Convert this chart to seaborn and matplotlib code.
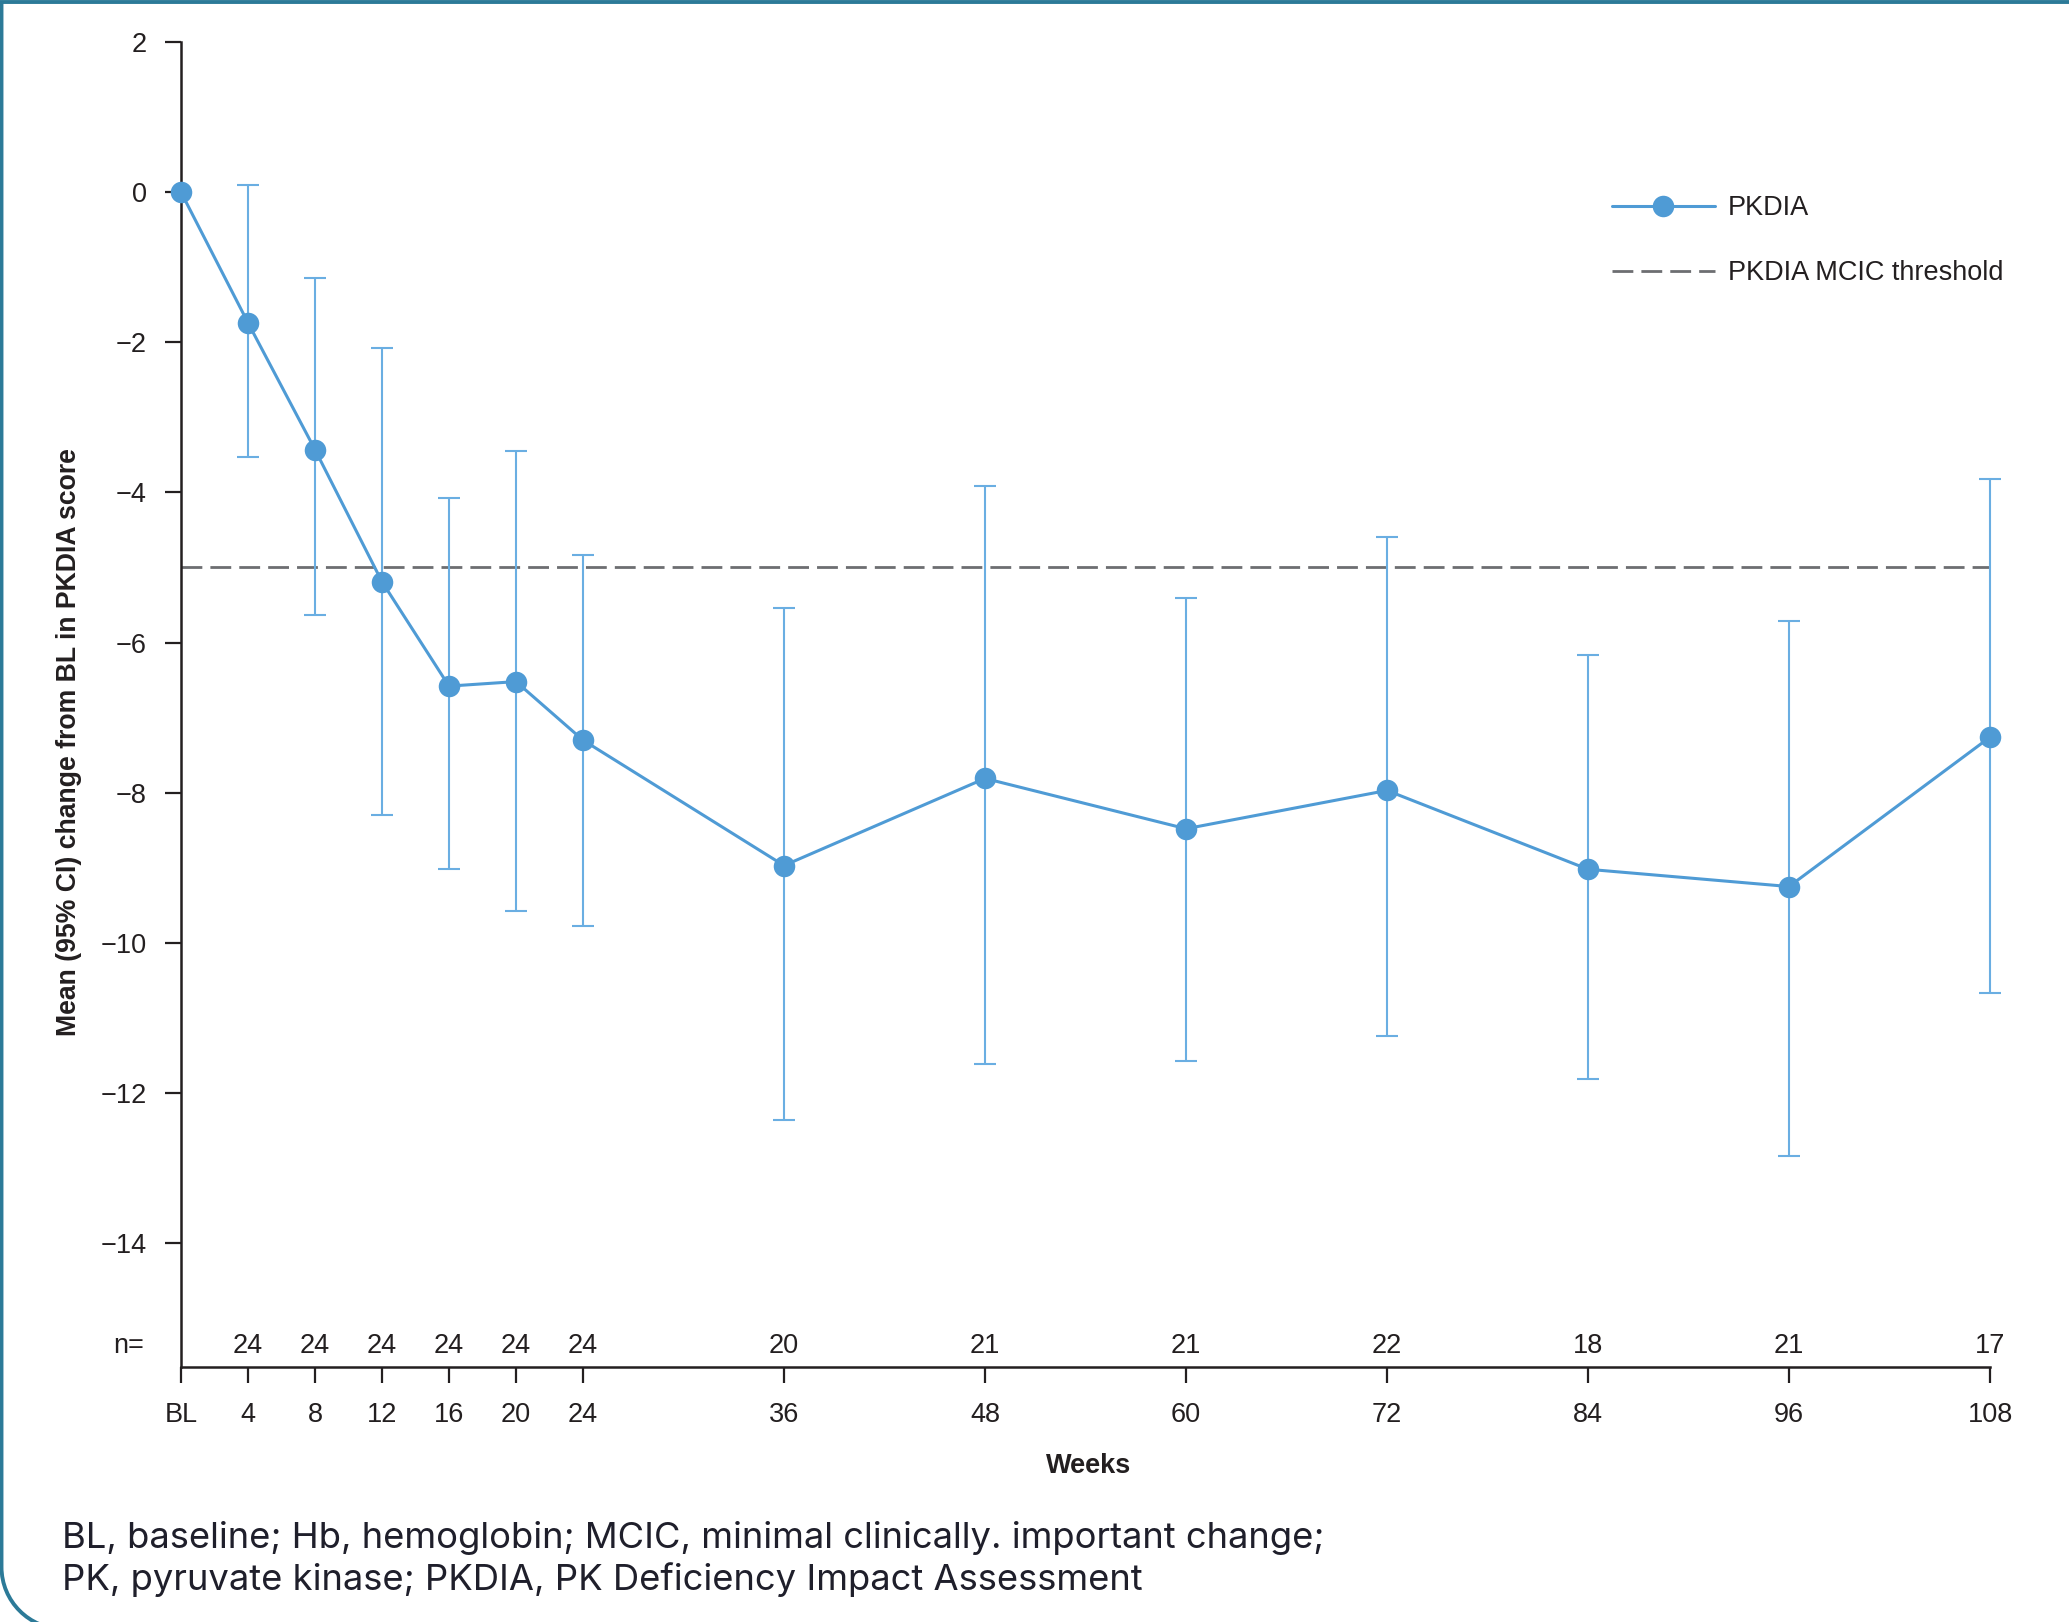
import matplotlib
matplotlib.use("Agg")
import matplotlib.pyplot as plt
from matplotlib.lines import Line2D
from matplotlib.path import Path
from matplotlib.patches import PathPatch
import matplotlib.transforms as mtransforms
import numpy as np
import pandas as pd
import seaborn as sns

# ---- data ----
weeks = [0, 4, 8, 12, 16, 20, 24, 36, 48, 60, 72, 84, 96, 108]
week_labels = ["BL", "4", "8", "12", "16", "20", "24", "36", "48", "60", "72", "84", "96", "108"]
mean_change = [0.0, -1.74, -3.43, -5.19, -6.58, -6.52, -7.30, -8.97, -7.81, -8.48, -7.97, -9.02, -9.25, -7.26]
ci_upper = [np.nan, 0.09, -1.14, -2.07, -4.08, -3.45, -4.84, -5.54, -3.92, -5.40, -4.59, -6.17, -5.71, -3.82]
ci_lower = [np.nan, -3.53, -5.63, -8.30, -9.02, -9.57, -9.78, -12.36, -11.62, -11.57, -11.24, -11.82, -12.84, -10.67]
n_patients = ["", "24", "24", "24", "24", "24", "24", "20", "21", "21", "22", "18", "21", "17"]
mcic_threshold = -5.0
y_ticks = [2, 0, -2, -4, -6, -8, -10, -12, -14]

df = pd.DataFrame({"week": weeks, "mean": mean_change, "lo": ci_lower, "hi": ci_upper})

# ---- style ----
sns.set_style("ticks")
plt.rcParams["font.family"] = ["Liberation Sans", "DejaVu Sans"]
plt.rcParams["axes.unicode_minus"] = True

INK = "#231f20"
BLUE = "#4f9bd5"
ERR = "#6aaee2"
GREY = "#6d6e71"
FRAME = "#2c7a98"

W, H = 2069, 1622
fig = plt.figure(figsize=(W / 100, H / 100), dpi=100)
fig.patch.set_facecolor("white")

ax_left, ax_right, ax_top, ax_bottom = 181, 1990, 42, 1367
ax = fig.add_axes([ax_left / W, 1 - ax_bottom / H, (ax_right - ax_left) / W, (ax_bottom - ax_top) / H])

# confidence intervals
err_df = df.dropna()
ax.errorbar(err_df["week"], err_df["mean"],
            yerr=[err_df["mean"] - err_df["lo"], err_df["hi"] - err_df["mean"]],
            fmt="none", ecolor=ERR, elinewidth=1.5, capsize=8, capthick=1.5,
            zorder=2, clip_on=False)

# MCIC threshold
ax.axhline(mcic_threshold, color=GREY, lw=2.0, linestyle=(0, (7.5, 2.9)), zorder=1)

# mean change line
sns.lineplot(data=df, x="week", y="mean", ax=ax, color=BLUE, lw=2.2,
             marker="o", markersize=15.5, markeredgewidth=0, markerfacecolor=BLUE,
             zorder=3, clip_on=False, legend=False)

ax.set_xlim(0, 108)
ax.set_ylim(-15.65, 2)
ax.set_xticks(weeks)
ax.set_xticklabels(week_labels)
ax.set_yticks(y_ticks)
ax.set_yticklabels([str(t).replace("-", "\u2212") for t in y_ticks])
ax.set_xlabel("")
ax.set_ylabel("")

for s in ["top", "right"]:
    ax.spines[s].set_visible(False)
for s in ["left", "bottom"]:
    ax.spines[s].set_color(INK)
    ax.spines[s].set_linewidth(1.8)

ax.tick_params(axis="both", colors=INK, labelcolor=INK, labelsize=19.5,
               length=11.5, width=1.6, direction="out")
ax.tick_params(axis="y", pad=13)
ax.tick_params(axis="x", pad=13.5)

# patient counts row
trans = mtransforms.blended_transform_factory(ax.transData, ax.transAxes)
for wk, n in zip(weeks, n_patients):
    if n:
        ax.text(wk, 0.016, n, transform=trans, ha="center", va="center",
                fontsize=19.5, color=INK)
ax.text(-0.029, 0.016, "n=", transform=ax.transAxes, ha="center", va="center",
        fontsize=19.5, color=INK)

# axis titles
fig.text(1089 / W, 1 - 1466 / H, "Weeks", ha="center", va="center",
         fontsize=19.5, fontweight="bold", color=INK)
fig.text(69 / W, 1 - 742 / H, "Mean (95% CI) change from BL in PKDIA score",
         ha="center", va="center", rotation=90, fontsize=19.2,
         fontweight="bold", color=INK)

# legend
handles = [
    Line2D([], [], color=BLUE, lw=2.2, marker="o", markersize=15.5, markeredgewidth=0),
    Line2D([], [], color=GREY, lw=2.0, linestyle=(0, (7.5, 2.9))),
]
leg = fig.legend(handles, ["PKDIA", "PKDIA MCIC threshold"],
                 loc="upper left", bbox_to_anchor=(1612 / W, 1 - 195 / H),
                 bbox_transform=fig.transFigure, frameon=False, fontsize=19.5,
                 handlelength=3.8, handletextpad=0.48, labelspacing=1.45,
                 borderpad=0, borderaxespad=0)
for t in leg.get_texts():
    t.set_color(INK)

# abbreviations footnote
foot_font = ["Inter", "DejaVu Sans"]
fig.text(62 / W, 1 - 1548 / H,
         "BL, baseline; Hb, hemoglobin; MCIC, minimal clinically. important change;",
         ha="left", va="baseline", fontsize=26.2, color="#1f1f2b", family=foot_font)
fig.text(62 / W, 1 - 1590 / H,
         "PK, pyruvate kinase; PKDIA, PK Deficiency Impact Assessment",
         ha="left", va="baseline", fontsize=26.2, color="#1f1f2b", family=foot_font)

# panel frame: top and left edges with a rounded lower-left corner
R = 62
k = 0.5523
x0 = 1.5
pts_px = [(W + 20, 2.0), (x0, 2.0), (x0, 1567),
          (x0, 1567 + k * R), (x0 + R - k * R, 1567 + R), (x0 + R, 1567 + R),
          (W + 20, 1567 + R)]
codes = [Path.MOVETO, Path.LINETO, Path.LINETO,
         Path.CURVE4, Path.CURVE4, Path.CURVE4, Path.LINETO]
verts = [(x / W, 1 - y / H) for x, y in pts_px]
frame = PathPatch(Path(verts, codes), transform=fig.transFigure, fill=False,
                  edgecolor=FRAME, lw=2.8, clip_on=False)
fig.patches.append(frame)

fig.savefig("out.png", dpi=100, facecolor="white")
